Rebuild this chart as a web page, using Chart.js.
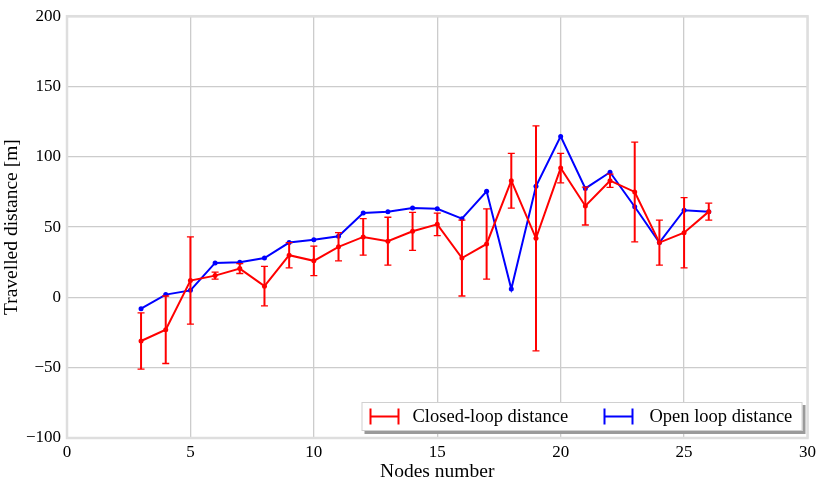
<!DOCTYPE html>
<html>
<head>
<meta charset="utf-8">
<script src="https://cdn.jsdelivr.net/npm/chart.js@4"></script>
<style>
  html,body{margin:0;padding:0;background:#fff;}
  #wrap{width:820px;height:480px;position:relative;}
</style>
</head>
<body>
<div id="wrap"><canvas id="ch"></canvas></div>
<script>
// data
const nodes      = [3,4,5,6,7,8,9,10,11,12,13,14,15,16,17,18,19,20,21,22,23,24,25,26];
const closedMean = [-31,-23,12,15.5,20.5,8,30,26,36,43,40,47,52,28,38,83,42,92,65,83,75,39,46,61];
const closedErr  = [20,24,31,2.5,3.5,14,9,10.5,10,13,17,13.5,8,27,25,19.5,80,10.5,13.5,4.7,35.5,16,25,6];
const openDist   = [-8,2,5,24.5,25,28,39,41,43.5,60,61,63.5,63,56,75.5,6,79,114.5,77.5,89,64.5,39,62,61];
const xTicks = [0,5,10,15,20,25,30];
const yTicks = [-100,-50,0,50,100,150,200];
const legendLabels = ['Closed-loop distance','Open loop distance'];

const FONT = '"Liberation Serif", "DejaVu Serif", serif';
const RED = '#ff0000', BLUE = '#0000ff';

function pts(ys){ return nodes.map((x,i)=>({x:x,y:ys[i]})); }

// error bars for closed loop, drawn under the blue line
const errorBars = {
  id:'errorBars',
  afterDatasetDraw(chart, args){
    if(args.index!==0) return;
    const c=chart.ctx, xs=chart.scales.x, ys=chart.scales.y;
    c.save();
    c.strokeStyle=RED;
    nodes.forEach((n,i)=>{
      const px=xs.getPixelForValue(n);
      const top=ys.getPixelForValue(closedMean[i]+closedErr[i]);
      const bot=ys.getPixelForValue(closedMean[i]-closedErr[i]);
      c.lineWidth=2;
      c.beginPath(); c.moveTo(px,top); c.lineTo(px,bot); c.stroke();
      c.lineWidth=1.3;
      c.beginPath();
      c.moveTo(px-3.5,top); c.lineTo(px+3.5,top);
      c.moveTo(px-3.5,bot); c.lineTo(px+3.5,bot);
      c.stroke();
    });
    c.restore();
  }
};

// frame + legend box inside the plot
const frameLegend = {
  id:'frameLegend',
  afterDraw(chart){
    const c=chart.ctx, a=chart.chartArea;
    c.save();
    c.strokeStyle='#dedede'; c.lineWidth=2.5;
    c.strokeRect(a.left,a.top,a.right-a.left,a.bottom-a.top);

    const bx=a.right-446, by=a.bottom-36, bw=441, bh=29;
    c.fillStyle='#9a9a9a';
    c.fillRect(bx+3,by+3,bw,bh);
    c.fillStyle='#fff';
    c.fillRect(bx,by,bw,bh);
    c.strokeStyle='#d0d0d0'; c.lineWidth=1;
    c.strokeRect(bx+0.5,by+0.5,bw-1,bh-1);

    const cy=by+bh/2;
    const items=[{col:RED,mx:bx+9,tx:bx+51},{col:BLUE,mx:bx+243,tx:bx+288}];
    c.font='18.5px '+FONT; c.textBaseline='middle'; c.textAlign='left';
    items.forEach((it,i)=>{
      c.strokeStyle=it.col; c.lineWidth=2;
      c.beginPath();
      c.moveTo(it.mx,cy); c.lineTo(it.mx+28,cy);
      c.moveTo(it.mx,cy-8); c.lineTo(it.mx,cy+8);
      c.moveTo(it.mx+28,cy-8); c.lineTo(it.mx+28,cy+8);
      c.stroke();
      c.fillStyle='#000';
      c.fillText(legendLabels[i],it.tx,cy+1);
    });
    c.restore();
  }
};

new Chart(document.getElementById('ch'),{
  type:'line',
  data:{datasets:[
    {label:legendLabels[0],data:pts(closedMean),borderColor:RED,backgroundColor:RED,borderWidth:2,pointRadius:2.5,pointBorderWidth:0,tension:0},
    {label:legendLabels[1],data:pts(openDist),borderColor:BLUE,backgroundColor:BLUE,borderWidth:2,pointRadius:2.5,pointBorderWidth:0,tension:0}
  ]},
  options:{
    responsive:true, maintainAspectRatio:false, animation:false,
    layout:{padding:{top:10,right:9,left:0,bottom:0}},
    plugins:{legend:{display:false},tooltip:{enabled:false}},
    scales:{
      x:{type:'linear',min:0,max:30,
        afterBuildTicks(s){ s.ticks=xTicks.map(v=>({value:v})); },
        afterFit(s){ s.height=42; },
        grid:{color:'#cccccc',lineWidth:1.3,drawTicks:false},
        border:{display:false},
        ticks:{color:'#000',padding:4,font:{family:FONT,size:17},maxRotation:0},
        title:{display:true,text:'Nodes number',color:'#000',font:{family:FONT,size:19.5},padding:{top:0,bottom:-4}}
      },
      y:{min:-100,max:200,
        afterBuildTicks(s){ s.ticks=yTicks.map(v=>({value:v})); },
        afterFit(s){ s.width=67; },
        grid:{color:'#cccccc',lineWidth:1.3,drawTicks:false},
        border:{display:false},
        ticks:{color:'#000',padding:6,font:{family:FONT,size:17},callback:v=>String(v).replace('-','\u2212')},
        title:{display:true,text:'Travelled distance [m]',color:'#000',font:{family:FONT,size:19.5},padding:{top:0,bottom:2}}
      }
    }
  },
  plugins:[errorBars,frameLegend]
});
</script>
</body>
</html>
